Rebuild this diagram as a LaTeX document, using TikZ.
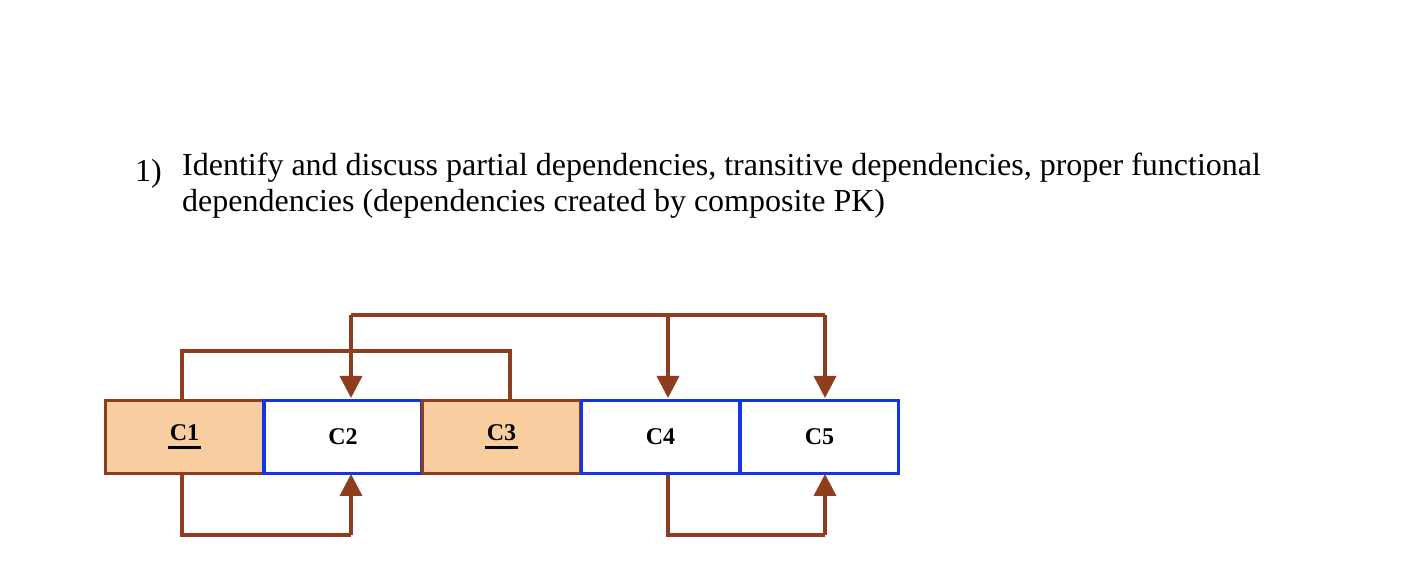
\documentclass[tikz,border=0pt]{standalone}
\usepackage{fontspec}
\setmainfont{Liberation Serif}
\usetikzlibrary{arrows.meta,calc}
\definecolor{brn}{HTML}{8E3E1F}
\definecolor{blu}{HTML}{1434E6}
\definecolor{peach}{HTML}{F8CEA0}
\newcommand{\keyul}[1]{{\setbox0\hbox{#1}\rlap{\kern-2pt\rule[-9pt]{\dimexpr\wd0+4pt\relax}{3.5pt}}#1}}
\begin{document}
\begin{tikzpicture}[x=1pt,y=1pt,line join=miter,
  cell/.style={minimum width=158pt,minimum height=73pt,line width=3.5pt,inner sep=0pt,font=\fontsize{24}{28}\selectfont\bfseries},
  keycell/.style={cell,draw=brn,fill=peach},
  plain/.style={cell,draw=blu,fill=white},
  dep/.style={draw=brn,line width=3.5pt},
  arr/.style={dep,-{Triangle[length=22pt,width=22pt]}}]
\useasboundingbox (0,0) rectangle (1424,586);
\node[anchor=north west,align=left,inner sep=0pt,font=\fontsize{32}{36}\selectfont] (t) at (182,433)
 {Identify and discuss partial dependencies, transitive dependencies, proper functional\\dependencies (dependencies created by composite PK)};
\node[anchor=base west,inner sep=0pt,font=\fontsize{32}{36}\selectfont] (n) at (135,404) {1)};
\draw[dep] (182,186) -- (182,235) -- (510,235) -- (510,186);
\draw[arr] (351,271) -- (351,188);
\draw[dep] (351,271) -- (825,271);
\draw[arr] (668,271) -- (668,188);
\draw[arr] (825,271) -- (825,188);
\node[keycell] (c1) at (184.5,149) {\keyul{C1}};
\node[plain] (c2) at (343,149) {C2};
\node[keycell] (c3) at (501.5,149) {\keyul{C3}};
\node[plain] (c4) at (660.5,149) {C4};
\node[plain] (c5) at (819.5,149) {C5};
\draw[dep] (182,149|-c1.south) -- (182,51) -- (351,51);
\draw[arr] (351,51) -- (351,112);
\draw[dep] (668,149|-c4.south) -- (668,51) -- (825,51);
\draw[arr] (825,51) -- (825,112);
\end{tikzpicture}
\end{document}
